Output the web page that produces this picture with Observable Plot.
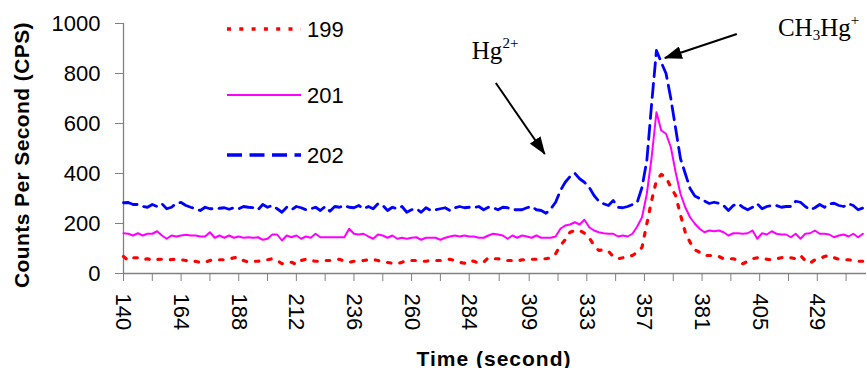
<!DOCTYPE html>
<html><head><meta charset="utf-8">
<script src="https://cdn.jsdelivr.net/npm/d3@7"></script>
<script src="https://cdn.jsdelivr.net/npm/@observablehq/plot@0.6"></script>
<style>
html,body{margin:0;padding:0;background:#fff;}
#chart{width:867px;height:368px;overflow:hidden;}
</style></head><body><div id="chart"></div>
<script>
// sampling of the time axis (seconds)
const timeStart = 140, timeStep = 2;

// Counts per second, read every 2 s from 140 s to 448 s
const s199 = [
 68,52,63,63,55,59,52,56,57,55,
 56,57,55,52,47,49,44,45,52,55,
 55,55,57,63,65,52,45,49,49,52,
 55,59,52,39,45,45,36,52,57,52,
 49,49,52,52,55,57,49,45,49,49,
 52,55,56,52,45,44,41,39,45,52,
 52,52,49,49,52,52,52,55,57,52,
 45,41,52,49,41,45,63,59,59,55,
 52,52,49,55,55,57,57,59,59,63,
 79,112,135,165,172,172,161,143,112,92,
 95,89,68,59,63,68,72,85,105,199,
 292,372,396,385,345,312,235,165,125,95,
 85,72,72,72,68,59,59,59,52,39,
 49,59,63,59,57,55,59,63,65,63,
 59,72,52,41,55,59,68,72,63,57,
 55,55,52,49,49];
const s201 = [
 161,159,152,161,152,159,159,169,152,139,
 152,148,152,155,152,152,148,148,165,143,
 152,143,152,143,148,143,145,143,145,135,
 139,156,156,132,152,145,152,139,148,143,
 159,145,145,145,145,145,145,179,159,156,
 159,148,139,156,152,143,152,139,143,139,
 143,145,135,143,143,143,135,143,148,152,
 148,152,148,148,143,143,152,159,156,152,
 139,152,143,152,148,143,152,143,143,143,
 148,179,192,196,205,196,215,185,172,165,
 161,159,159,148,152,148,159,188,225,319,
 465,645,572,559,505,405,319,265,225,199,
 179,165,172,169,172,165,152,161,161,159,
 161,172,139,161,156,169,159,156,156,145,
 159,139,159,161,172,159,159,156,145,152,
 156,148,159,145,159];
const s202 = [
 283,284,276,276,268,265,276,268,279,259,
 265,281,284,272,265,259,252,265,259,259,
 261,263,257,263,259,268,265,263,255,276,
 265,272,259,245,265,255,268,263,255,259,
 265,252,268,249,268,265,272,265,263,272,
 259,268,259,279,272,252,265,259,268,245,
 255,259,245,263,252,255,259,263,252,263,
 268,263,265,263,268,255,265,263,255,265,
 263,255,255,255,263,268,255,252,241,259,
 285,332,365,388,401,379,365,345,312,289,
 279,272,292,265,263,268,276,285,345,452,
 679,892,845,800,700,580,460,400,340,310,
 300,290,280,285,281,272,252,272,279,265,
 255,265,279,259,268,272,272,265,268,268,
 289,285,268,255,263,276,265,279,281,272,
 268,279,272,255,262];

const seriesNames = ["199", "201", "202"];
const seriesColors = ["#FF0000", "#FF00FF", "#0000FF"];
const xTickLabels = [140,164,188,212,236,260,284,309,333,357,381,405,429];
const yTicks = [0,200,400,600,800,1000];
const xDomain = [140, 449.5];
const yDomain = [0, 1000];

// annotation anchors in data units [time, cps]
const hgText = [285.3, 856];
const hgArrow = [[295.3, 760], [315.7, 476]];
const mhgText = [412.8, 948];
const mhgArrow = [[395.7, 956], [365.7, 860]];

const seriesData = [s199, s201, s202];
const minorTicks = xTickLabels.map((v, i) => i < xTickLabels.length - 1 ? (v + xTickLabels[i + 1]) / 2 : v + 12);
const tOf = (d, i) => timeStart + i * timeStep;

const styles = [
  {strokeWidth: 3.2, strokeDasharray: "3.5 9"},
  {strokeWidth: 2},
  {strokeWidth: 2.8, strokeDasharray: "14 7"}
];

const chart = Plot.plot({
  width: 867, height: 368,
  marginLeft: 123, marginRight: 1, marginTop: 23, marginBottom: 95,
  style: {fontFamily: "'Liberation Sans', Arial, sans-serif", fontSize: "22px", background: "white", overflow: "visible", color: "black"},
  x: {domain: xDomain},
  y: {domain: yDomain},
  marks: [
    Plot.axisY(yTicks, {tickSize: 8, tickPadding: 15, fontSize: 22, stroke: "#808080", tickFormat: d => String(d), label: null}),
    Plot.axisX(xTickLabels, {tickSize: 8, tickPadding: 12, tickRotate: 90, fontSize: 22, stroke: "#808080", tickFormat: d => String(d), label: null}),
    Plot.axisX(minorTicks, {tickSize: 8, tickFormat: () => "", stroke: "#808080", label: null}),
    Plot.ruleY([0], {stroke: "#808080", strokeWidth: 1.3}),
    Plot.ruleX([xDomain[0]], {stroke: "#808080", strokeWidth: 1.3}),
    ...seriesData.map((arr, k) => Plot.line(arr, {
      x: tOf, y: d => d, stroke: seriesColors[k], ...styles[k]
    }))
  ]
});
document.getElementById("chart").appendChild(chart);

const svg = d3.select(chart);
const xs = chart.scale("x"), ys = chart.scale("y");
const X = v => xs.apply(v), Y = v => ys.apply(v);

// axis titles
svg.append("text")
  .attr("transform", "translate(21,155) rotate(-90)")
  .attr("text-anchor", "middle").attr("dominant-baseline", "central")
  .attr("font-family", "'Liberation Sans', Arial, sans-serif")
  .attr("font-weight", "bold").attr("font-size", 21).attr("letter-spacing", 0.4)
  .attr("fill", "black")
  .text("Counts Per Second (CPS)");
svg.append("text")
  .attr("x", 494).attr("y", 358)
  .attr("text-anchor", "middle").attr("dominant-baseline", "central")
  .attr("font-family", "'Liberation Sans', Arial, sans-serif")
  .attr("font-weight", "bold").attr("font-size", 21).attr("letter-spacing", 1)
  .attr("fill", "black")
  .text("Time (second)");

// legend
const legY = [29, 95, 155];
seriesNames.forEach((name, k) => {
  svg.append("line").attr("x1", 227).attr("x2", 301).attr("y1", legY[k]).attr("y2", legY[k])
    .attr("stroke", seriesColors[k]).attr("stroke-width", k === 1 ? 2 : 3.5)
    .attr("stroke-dasharray", k === 0 ? "4 8.3" : k === 2 ? "15 7.5" : null);
  svg.append("text").attr("x", 307).attr("y", legY[k]).attr("dominant-baseline", "central")
    .attr("text-anchor", "start")
    .attr("font-family", "'Liberation Sans', Arial, sans-serif").attr("font-size", 22)
    .attr("fill", "black").text(name);
});

// arrowhead marker
const defs = svg.append("defs");
defs.append("marker").attr("id", "ah").attr("viewBox", "0 0 18 13")
  .attr("refX", 17).attr("refY", 6.5).attr("markerWidth", 18).attr("markerHeight", 13)
  .attr("markerUnits", "userSpaceOnUse").attr("orient", "auto")
  .append("path").attr("d", "M0,0 L18,6.5 L0,13 Z").attr("fill", "black");

[hgArrow, mhgArrow].forEach(a => {
  svg.append("line")
    .attr("x1", X(a[0][0])).attr("y1", Y(a[0][1]))
    .attr("x2", X(a[1][0])).attr("y2", Y(a[1][1]))
    .attr("stroke", "black").attr("stroke-width", 2).attr("marker-end", "url(#ah)");
});

const serif = "'Liberation Serif', 'Times New Roman', serif";
const t1 = svg.append("text").attr("x", X(hgText[0])).attr("y", Y(hgText[1]))
  .attr("text-anchor", "start")
  .attr("font-family", serif).attr("font-size", 25).attr("fill", "black");
t1.append("tspan").text("Hg");
t1.append("tspan").attr("font-size", 15).attr("dy", -11).text("2+");

const t2 = svg.append("text").attr("x", X(mhgText[0])).attr("y", Y(mhgText[1]))
  .attr("text-anchor", "start")
  .attr("font-family", serif).attr("font-size", 25).attr("fill", "black");
t2.append("tspan").text("CH");
t2.append("tspan").attr("font-size", 15).attr("dy", 4).text("3");
t2.append("tspan").attr("dy", -4).text("Hg");
t2.append("tspan").attr("font-size", 15).attr("dy", -11).text("+");
</script>
</body></html>
